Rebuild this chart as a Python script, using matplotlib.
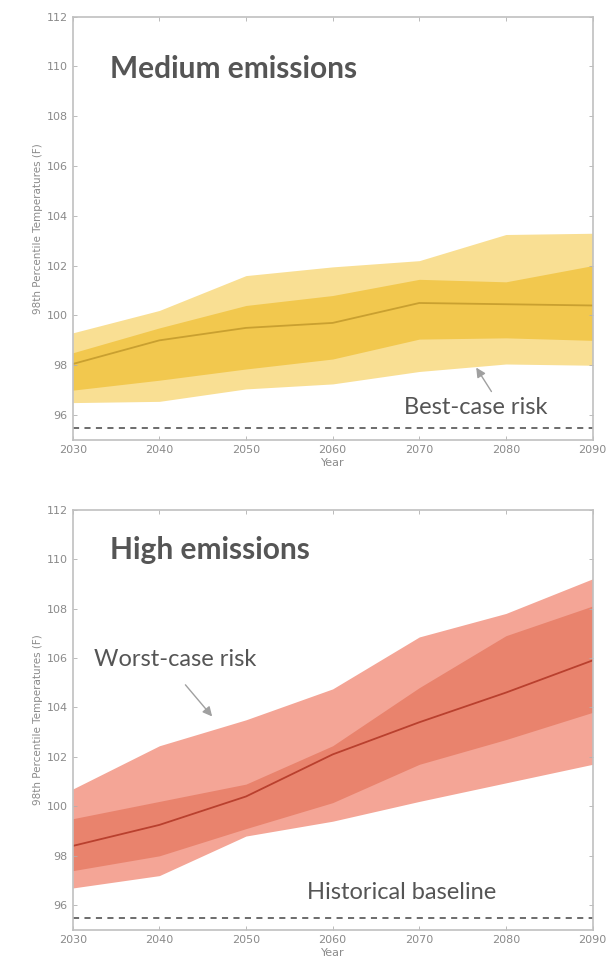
import numpy as np
import matplotlib
matplotlib.use("Agg")
import matplotlib.pyplot as plt

# years on x axis
years = [2030, 2040, 2050, 2060, 2070, 2080, 2090]

# medium emissions: median, inner band, outer band
med_mid = [98.05, 99.0, 99.5, 99.7, 100.5, 100.45, 100.4]
med_in_hi = [98.5, 99.5, 100.4, 100.8, 101.45, 101.35, 102.0]
med_in_lo = [97.0, 97.4, 97.85, 98.25, 99.05, 99.1, 99.0]
med_out_hi = [99.3, 100.2, 101.6, 101.95, 102.2, 103.25, 103.3]
med_out_lo = [96.5, 96.55, 97.05, 97.25, 97.75, 98.05, 98.0]

# high emissions
high_mid = [98.4, 99.25, 100.4, 102.1, 103.4, 104.6, 105.9]
high_in_hi = [99.5, 100.2, 100.9, 102.45, 104.8, 106.9, 108.1]
high_in_lo = [97.4, 98.0, 99.1, 100.15, 101.7, 102.7, 103.8]
high_out_hi = [100.7, 102.45, 103.5, 104.75, 106.85, 107.8, 109.2]
high_out_lo = [96.7, 97.2, 98.8, 99.4, 100.2, 100.95, 101.7]

baseline = 95.5
yticks = np.arange(96, 113, 2)
xticks = np.arange(2030, 2091, 10)

text_col = "#555555"
tick_col = "#8a8a8a"
annot_font = ["Lato", "DejaVu Sans"]

fig = plt.figure(figsize=(6.08, 9.71), dpi=100)
ax1 = fig.add_axes([0.1196, 0.5469, 0.855, 0.436])
ax2 = fig.add_axes([0.1196, 0.0422, 0.855, 0.433])


def style_axis(ax):
    ax.set_xlim(2030, 2090)
    ax.set_ylim(95, 112)
    ax.set_xticks(xticks)
    ax.set_yticks(yticks)
    ax.tick_params(direction="in", length=3, width=0.6, colors="#b0b0b0",
                   labelcolor=tick_col, labelsize=8, top=True, right=True)
    for s in ax.spines.values():
        s.set_color("#c0c0c0")
        s.set_linewidth(1.2)
    ax.set_xlabel("Year", color=tick_col, fontsize=8, labelpad=2)
    ax.set_ylabel("98th Percentile Temperatures (F)", color=tick_col,
                  fontsize=7.5, labelpad=3)
    ax.axhline(baseline, color="#444444", lw=1.1, ls=(0, (4, 3.5)))


# medium emissions panel
ax1.fill_between(years, med_out_lo, med_out_hi, color="#f9df93", lw=0)
ax1.fill_between(years, med_in_lo, med_in_hi, color="#f2c84e", lw=0)
ax1.plot(years, med_mid, color="#c9a030", lw=1.3)
style_axis(ax1)
ax1.text(2034.3, 109.9, "Medium emissions", fontsize=21.5, fontweight="bold",
         color=text_col, family=annot_font, va="center", ha="left")
ax1.text(2068.2, 96.3, "Best-case risk", fontsize=17, color=text_col,
         family=annot_font, va="center", ha="left")
ax1.annotate("", xy=(2076.4, 98.0), xytext=(2078.5, 96.85),
             arrowprops=dict(arrowstyle="-|>", color="#a0a0a0", lw=1,
                             mutation_scale=14))

# high emissions panel
ax2.fill_between(years, high_out_lo, high_out_hi, color="#f4a596", lw=0)
ax2.fill_between(years, high_in_lo, high_in_hi, color="#e9836d", lw=0)
ax2.plot(years, high_mid, color="#b9402e", lw=1.3)
style_axis(ax2)
ax2.text(2034.3, 110.35, "High emissions", fontsize=21.5, fontweight="bold",
         color=text_col, family=annot_font, va="center", ha="left")
ax2.text(2032.4, 105.95, "Worst-case risk", fontsize=17, color=text_col,
         family=annot_font, va="center", ha="left")
ax2.text(2057.0, 96.5, "Historical baseline", fontsize=17, color=text_col,
         family=annot_font, va="center", ha="left")
ax2.annotate("", xy=(2046.3, 103.55), xytext=(2042.8, 105.0),
             arrowprops=dict(arrowstyle="-|>", color="#a0a0a0", lw=1,
                             mutation_scale=14))

fig.savefig("out.png", dpi=100)
